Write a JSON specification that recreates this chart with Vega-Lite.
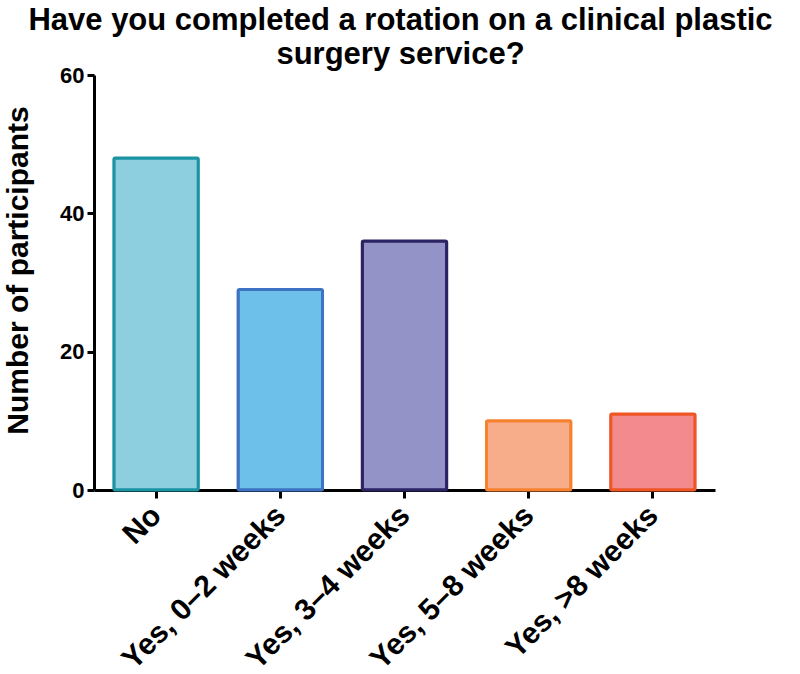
{
  "$schema": "https://vega.github.io/schema/vega-lite/v6.json",
  "width": 621,
  "height": 415,
  "autosize": {"type": "none"},
  "padding": {"left": 94, "top": 75, "right": 85, "bottom": 184},
  "background": "white",
  "title": {
    "text": ["Have you completed a rotation on a clinical plastic", "surgery service?"],
    "font": "Liberation Sans",
    "fontSize": 31,
    "fontWeight": "bold",
    "lineHeight": 34,
    "color": "black",
    "anchor": "middle",
    "frame": "group",
    "dx": -4,
    "offset": -7
  },
  "data": {
    "values": [
      {"category": "No", "participants": 48},
      {"category": "Yes, 0–2 weeks", "participants": 29},
      {"category": "Yes, 3–4 weeks", "participants": 36},
      {"category": "Yes, 5–8 weeks", "participants": 10},
      {"category": "Yes, >8 weeks", "participants": 11}
    ]
  },
  "mark": {"type": "bar", "strokeWidth": 3, "cornerRadius": 1.5},
  "encoding": {
    "x": {
      "field": "category",
      "type": "nominal",
      "sort": null,
      "scale": {"paddingInner": 0.32, "paddingOuter": 0.16},
      "axis": {
        "title": null,
        "labelAngle": -45,
        "labelAlign": "right",
        "labelBaseline": "top",
        "labelFont": "Liberation Sans",
        "labelFontWeight": "bold",
        "labelFontSize": 30,
        "labelColor": "black",
        "labelPadding": 2,
        "labelOffset": -10,
        "labelLimit": 400,
        "domainColor": "black",
        "domainWidth": 3,
        "tickColor": "black",
        "tickWidth": 3,
        "tickSize": 8
      }
    },
    "y": {
      "field": "participants",
      "type": "quantitative",
      "scale": {"domain": [0, 60], "nice": false},
      "axis": {
        "title": "Number of participants",
        "titleFont": "Liberation Sans",
        "titleFontWeight": "bold",
        "titleFontSize": 30,
        "titleColor": "black",
        "titleY": 195,
        "titleX": -61,
        "values": [0, 20, 40, 60],
        "grid": false,
        "labelFont": "Liberation Sans",
        "labelFontWeight": "bold",
        "labelFontSize": 22,
        "labelColor": "black",
        "labelPadding": 3,
        "domainColor": "black",
        "domainWidth": 3,
        "tickColor": "black",
        "tickWidth": 3,
        "tickSize": 7
      }
    },
    "color": {
      "field": "category",
      "type": "nominal",
      "sort": null,
      "legend": null,
      "scale": {
        "domain": ["No", "Yes, 0–2 weeks", "Yes, 3–4 weeks", "Yes, 5–8 weeks", "Yes, >8 weeks"],
        "range": ["#8dcfdf", "#6cc0ea", "#9393c8", "#f8ad8a", "#f38a8d"]
      }
    },
    "stroke": {
      "field": "category",
      "type": "nominal",
      "sort": null,
      "legend": null,
      "scale": {
        "domain": ["No", "Yes, 0–2 weeks", "Yes, 3–4 weeks", "Yes, 5–8 weeks", "Yes, >8 weeks"],
        "range": ["#1b93a3", "#3d73c2", "#2b2462", "#f6822f", "#ef5626"]
      }
    }
  },
  "config": {"view": {"stroke": null}}
}
